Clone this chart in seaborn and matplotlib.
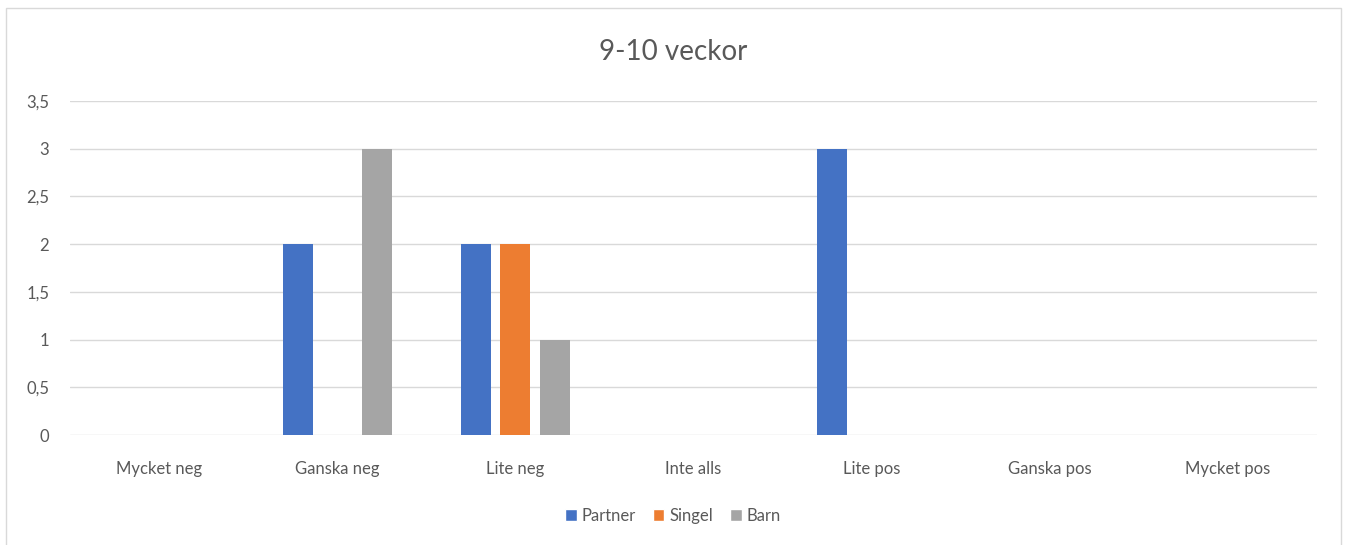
import pandas as pd
import matplotlib.pyplot as plt
import seaborn as sns
from matplotlib.patches import Rectangle, Patch

# Data
categories = ['Mycket neg', 'Ganska neg', 'Lite neg', 'Inte alls', 'Lite pos', 'Ganska pos', 'Mycket pos']
partner = [0, 2, 2, 0, 3, 0, 0]
singel = [0, 0, 2, 0, 0, 0, 0]
barn = [0, 3, 1, 0, 0, 0, 0]
series_names = ['Partner', 'Singel', 'Barn']
colors = ['#4472C4', '#ED7D31', '#A5A5A5']

df = pd.DataFrame({'Kategori': categories, 'Partner': partner, 'Singel': singel, 'Barn': barn})
long_df = df.melt(id_vars='Kategori', var_name='Grupp', value_name='Antal')

sns.set_style('white')
plt.rcParams['font.family'] = ['Lato', 'DejaVu Sans']
text_col = '#595959'

fig = plt.figure(figsize=(13.46, 5.45), dpi=100)
ax = fig.add_axes([70 / 1346, 1 - 435 / 545, (1317 - 70) / 1346, (435 - 101) / 545])

sns.barplot(data=long_df, x='Kategori', y='Antal', hue='Grupp', order=categories,
            hue_order=series_names, palette=colors, width=0.666, gap=0.24,
            saturation=1, linewidth=0, ax=ax, legend=False)

ax.set_ylim(0, 3.5)
ax.set_xlim(-0.5, len(categories) - 0.5)
yt = [0, 0.5, 1, 1.5, 2, 2.5, 3, 3.5]
ax.set_yticks(yt)
ax.set_yticklabels([f'{v:g}'.replace('.', ',') for v in yt])
ax.yaxis.grid(True, color='#d9d9d9', linewidth=1)
ax.set_axisbelow(True)
for s in ax.spines.values():
    s.set_visible(False)
ax.tick_params(axis='both', length=0, labelsize=12, labelcolor=text_col)
ax.tick_params(axis='x', pad=19)
ax.tick_params(axis='y', pad=15)
ax.set_xlabel('')
ax.set_ylabel('')

fig.text(0.5, 1 - 52 / 545, '9-10 veckor', ha='center', va='center', fontsize=20, color=text_col)

handles = [Patch(facecolor=c, label=n) for c, n in zip(colors, series_names)]
fig.legend(handles=handles, loc='center', bbox_to_anchor=(0.5, 1 - 516 / 545), ncol=3,
           frameon=False, fontsize=12, labelcolor=text_col, handlelength=0.7,
           handleheight=0.7, handletextpad=0.3, columnspacing=1.0)

# chart border
fig.patches.append(Rectangle((6 / 1346, -0.01), (1341 - 6) / 1346, 1 - 8 / 545 + 0.01,
                             transform=fig.transFigure, fill=False, edgecolor='#d9d9d9', linewidth=1))

plt.savefig('out.png', dpi=100)
plt.close()
